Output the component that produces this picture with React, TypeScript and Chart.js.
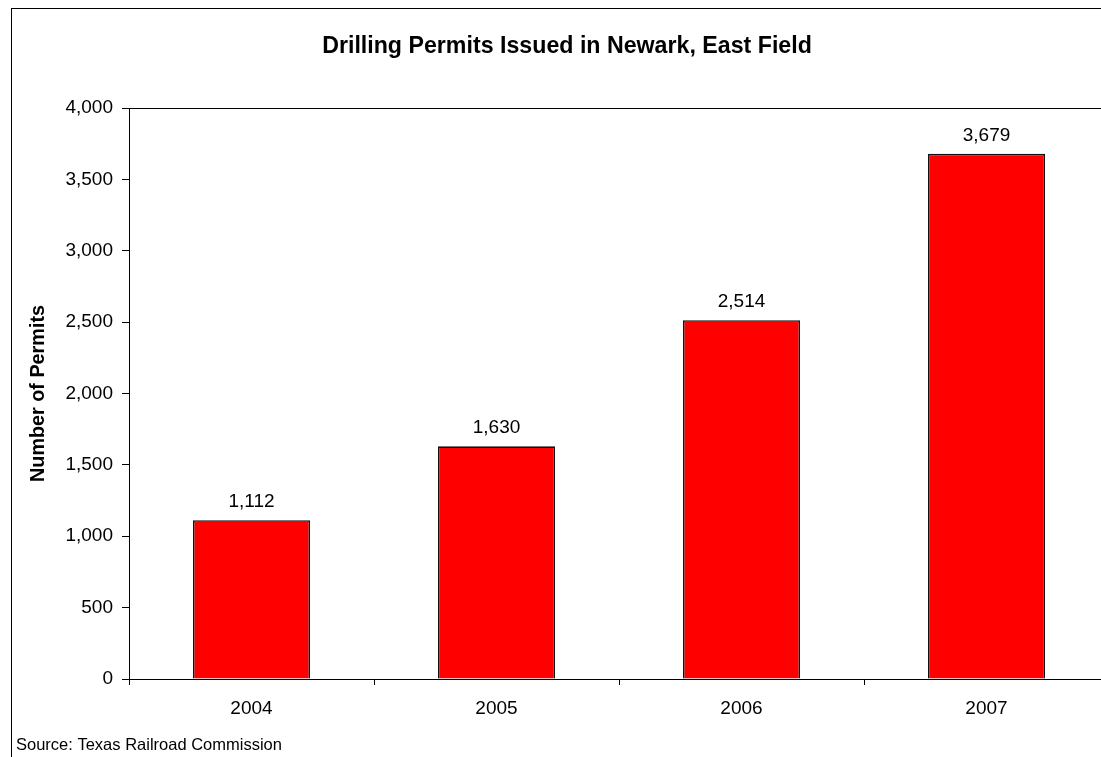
import { useEffect, useRef } from 'react';
import { Chart, registerables } from 'chart.js';

Chart.register(...registerables);

const titleText = 'Drilling Permits Issued in Newark, East Field';
const sourceText = 'Source: Texas Railroad Commission';
const yAxisTitle = 'Number of Permits';
const years = ['2004', '2005', '2006', '2007'];
const permits = [1112, 1630, 2514, 3679];
const yMin = 0;
const yMax = 4000;
const yStep = 500;

const FONT = '"Liberation Sans", Arial, Helvetica, sans-serif';
const CANVAS_W = 1124;
const CANVAS_H = 757;

const fmt = (v: number) => v.toLocaleString('en-US');

const decorPlugin = {
  id: 'decor',
  afterDatasetsDraw(chart: any) {
    const ctx = chart.ctx as CanvasRenderingContext2D;
    const meta = chart.getDatasetMeta(0);
    ctx.save();
    // plot area border
    const { left, top, right, bottom } = chart.chartArea;
    ctx.strokeStyle = '#000';
    ctx.lineWidth = 1;
    ctx.strokeRect(Math.round(left) + 0.5, Math.round(top) + 0.5, Math.round(right - left), Math.round(bottom - top));
    // value labels
    ctx.fillStyle = '#000';
    ctx.font = `19px ${FONT}`;
    ctx.textAlign = 'center';
    ctx.textBaseline = 'alphabetic';
    meta.data.forEach((bar: any, i: number) => {
      ctx.fillText(fmt(permits[i]), bar.x, bar.y - 13);
    });
    ctx.restore();
  },
  afterDraw(chart: any) {
    const ctx = chart.ctx as CanvasRenderingContext2D;
    ctx.save();
    ctx.fillStyle = '#000';
    ctx.textBaseline = 'alphabetic';
    ctx.font = `bold 23.2px ${FONT}`;
    ctx.textAlign = 'center';
    ctx.fillText(titleText, 567, 53);
    ctx.font = `16.5px ${FONT}`;
    ctx.textAlign = 'left';
    ctx.fillText(sourceText, 16, 750);
    ctx.restore();
  },
};

export default function App() {
  const ref = useRef<HTMLCanvasElement | null>(null);

  useEffect(() => {
    if (!ref.current) return;
    Chart.defaults.font.family = FONT;
    const chart = new Chart(ref.current, {
      type: 'bar',
      data: {
        labels: years,
        datasets: [
          {
            data: permits,
            backgroundColor: '#FF0000',
            borderColor: '#111',
            borderWidth: 1.6,
            barPercentage: 0.478,
            categoryPercentage: 1,
          },
        ],
      },
      options: {
        responsive: false,
        animation: false,
        devicePixelRatio: 1,
        layout: { padding: { left: 0, top: 108, right: CANVAS_W - 1109, bottom: 0 } },
        plugins: {
          legend: { display: false },
          title: { display: false },
          tooltip: { enabled: false },
        },
        scales: {
          x: {
            type: 'category',
            offset: true,
            grid: {
              display: true,
              offset: true,
              drawOnChartArea: false,
              drawTicks: true,
              tickLength: 6,
              color: '#000',
            },
            border: { display: true, color: '#000', width: 1 },
            ticks: { color: '#000', font: { size: 19 }, padding: 12, maxRotation: 0 },
            afterFit: (scale: any) => {
              scale.height = 757 - 679;
            },
          },
          y: {
            min: yMin,
            max: yMax,
            ticks: {
              stepSize: yStep,
              color: '#000',
              font: { size: 19 },
              padding: 9,
              callback: (v: any) => fmt(Number(v)),
            },
            grid: {
              display: true,
              drawOnChartArea: false,
              drawTicks: true,
              tickLength: 7,
              color: '#000',
            },
            border: { display: true, color: '#000', width: 1 },
            title: {
              display: true,
              text: yAxisTitle,
              color: '#000',
              font: { size: 19.8, weight: 'bold' },
              padding: { top: 27, bottom: 0 },
            },
            afterFit: (scale: any) => {
              scale.width = 129;
            },
          },
        },
      },
      plugins: [decorPlugin],
    } as any);
    return () => chart.destroy();
  }, []);

  return (
    <div
      style={{
        position: 'fixed',
        left: 0,
        top: 0,
        width: 1101,
        height: 757,
        overflow: 'hidden',
        background: '#fff',
      }}
    >
      <div
        style={{
          position: 'absolute',
          left: 11,
          top: 8,
          width: 1140,
          height: 800,
          border: '1px solid #000',
          boxSizing: 'border-box',
        }}
      />
      <canvas
        ref={ref}
        width={CANVAS_W}
        height={CANVAS_H}
        style={{ position: 'absolute', left: 0, top: 0, width: CANVAS_W, height: CANVAS_H }}
      />
    </div>
  );
}
